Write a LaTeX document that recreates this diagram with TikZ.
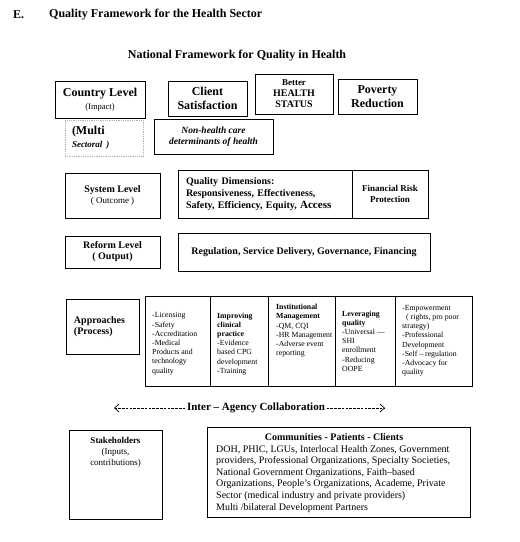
\documentclass[tikz,border=0pt]{standalone}
\usepackage{fontspec}
\setmainfont{Liberation Serif}
\usetikzlibrary{arrows.meta}

\begin{document}
\begin{tikzpicture}[x=1pt, y=-1pt,
  title/.style={font=\fontsize{12}{14}\selectfont\bfseries, inner sep=0pt},
  bigbox/.style={draw, rectangle, line width=0.9pt, align=center, inner sep=2pt, font=\fontsize{12}{13.5}\selectfont\bfseries},
  lvlbox/.style={draw, rectangle, line width=0.9pt, align=center, inner sep=2pt, font=\fontsize{10}{11}\selectfont\bfseries},
  dotbox/.style={draw=gray!60, densely dotted, line width=0.8pt, rectangle, align=left, inner xsep=7pt, font=\fontsize{12}{13}\selectfont\bfseries},
  cell/.style={draw, rectangle, line width=0.9pt, minimum height=90pt, inner sep=0pt, outer sep=0pt},
  celltxt/.style={anchor=north west, align=left, inner sep=0pt, font=\fontsize{7.8}{9.2}\selectfont},
  plainbox/.style={draw, rectangle, line width=0.9pt, inner sep=0pt},
  collab/.style={-{Straight Barb[length=4.5pt, width=8pt]}, dash pattern=on 2.6pt off 1.2pt, line width=0.7pt}
]
\useasboundingbox (0,0) rectangle (520,542);

% ==================== HEADINGS ====================
\node[title, anchor=west] (sec_num) at (13,15) {E.};
\node[title, anchor=west] (sec_title) at (49,15) {Quality Framework for the Health Sector};
\node[title] (nat_title) at (237,56) {National Framework for Quality in Health};

% ==================== COUNTRY LEVEL (IMPACT) ====================
\node[bigbox, minimum width=90pt, minimum height=37pt] (top_country) at (100,99.5) {Country Level\\{\fontsize{8.5}{10}\selectfont\mdseries (Impact)}};
\node[bigbox, minimum width=79pt, minimum height=35pt] (top_client) at (207.5,98.5) {Client\\Satisfaction};
\node[lvlbox, minimum width=78pt, minimum height=40pt] (top_status) at (294,94) {{\fontsize{9}{10}\selectfont Better}\\HEALTH\\STATUS};
\node[bigbox, minimum width=79pt, minimum height=35pt] (top_poverty) at (377.5,96.5) {Poverty\\Reduction};

\node[dotbox, minimum width=78pt, minimum height=36pt, text width=64pt] (top_multi) at (104,138) {(Multi\\{\fontsize{9}{10}\selectfont\itshape Sectoral )}};
\node[lvlbox, minimum width=119pt, minimum height=35pt, font=\fontsize{9.5}{11}\selectfont\bfseries\itshape] (top_nonhealth) at (213.5,136.5) {Non-health care\\determinants of health};

% ==================== SYSTEM LEVEL (OUTCOME) ====================
\node[lvlbox, minimum width=95pt, minimum height=45pt] (sys_lbl) at (112.5,195.5) {System Level\\{\fontsize{9}{10}\selectfont\mdseries ( Outcome )}};
\node[lvlbox, minimum width=174pt, minimum height=48pt, align=left, text width=158pt, inner xsep=8pt, font=\fontsize{10}{12}\selectfont\bfseries] (sys_qual) at (265,194) {Quality Dimensions:\\Responsiveness, Effectiveness,\\Safety, Efficiency, Equity, {\fontsize{11}{12}\selectfont Access}};
\node[lvlbox, minimum width=76pt, minimum height=48pt, font=\fontsize{9}{11}\selectfont\bfseries] (sys_fin) at (390,194) {Financial Risk\\Protection};

% ==================== REFORM LEVEL (OUTPUT) ====================
\node[lvlbox, minimum width=95pt, minimum height=32pt] (ref_lbl) at (112.5,252) {Reform Level\\( Output)};
\node[lvlbox, minimum width=252pt, minimum height=38pt] (ref_main) at (304,252) {Regulation, Service Delivery, Governance, Financing};

% ==================== APPROACHES (PROCESS) ====================
\node[lvlbox, minimum width=73pt, minimum height=55pt, align=left, text width=57pt, inner xsep=8pt] (app_lbl) at (102.5,326.5) {Approaches\\(Process)};

\node[cell, minimum width=65pt] (app_c1) at (177.5,341) {};
\node[cell, minimum width=58pt] (app_c2) at (239,341) {};
\node[cell, minimum width=67pt] (app_c3) at (301.5,341) {};
\node[cell, minimum width=60pt] (app_c4) at (365,341) {};
\node[cell, minimum width=77pt] (app_c5) at (433.5,341) {};

\node[celltxt] (app_t1) at (152,312.5) {-Licensing\\-Safety\\-Accreditation\\-Medical\\Products and\\technology\\quality};
\node[celltxt] (app_t2) at (217,312.5) {\textbf{Improving}\\\textbf{clinical}\\\textbf{practice}\\-Evidence\\based CPG\\development\\-Training};
\node[celltxt] (app_t3) at (276,304) {\textbf{Institutional}\\\textbf{Management}\\-QM, CQI\\-HR Management\\-Adverse event\\reporting};
\node[celltxt] (app_t4) at (342,310.5) {\textbf{Leveraging}\\\textbf{quality}\\-Universal ---\\SHI\\enrollment\\-Reducing\\OOPE};
\node[celltxt] (app_t5) at (402,305) {-Empowerment\\\hspace*{4pt}( rights, pro poor\\strategy)\\-Professional\\Development\\-Self -- regulation\\-Advocacy for\\quality};

% ==================== INTER-AGENCY COLLABORATION ====================
\node[font=\fontsize{11}{12}\selectfont\bfseries, inner sep=1.5pt] (iac_txt) at (256,408) {Inter -- Agency Collaboration};
\coordinate (iac_l) at (114,408);
\coordinate (iac_r) at (385,408);
\draw[collab] (iac_txt.west) -- (iac_l);
\draw[collab] (iac_txt.east) -- (iac_r);

% ==================== STAKEHOLDERS (INPUTS) ====================
\node[plainbox, minimum width=93pt, minimum height=89pt] (stk_box) at (115.5,474.5) {};
\node[anchor=north, align=center, inner sep=0pt, font=\fontsize{9}{11}\selectfont] (stk_txt) at ([yshift=-7.5pt]stk_box.north) {\textbf{Stakeholders}\\(Inputs,\\contributions)};

\node[plainbox, minimum width=263pt, minimum height=90pt] (comm_box) at (338.5,472) {};
\node[inner sep=0pt, font=\fontsize{10}{12}\selectfont\bfseries] (comm_head) at (334,437) {Communities - Patients - Clients};
\node[anchor=north west, align=left, inner sep=0pt, font=\fontsize{10}{11.6}\selectfont] (comm_list) at (216,445) {DOH, PHIC, LGUs, Interlocal Health Zones, Government\\providers, Professional Organizations, Specialty Societies,\\National Government Organizations, Faith--based\\Organizations, People's Organizations, Academe, Private\\Sector (medical industry and private providers)\\Multi /bilateral Development Partners};

\end{tikzpicture}
\end{document}
